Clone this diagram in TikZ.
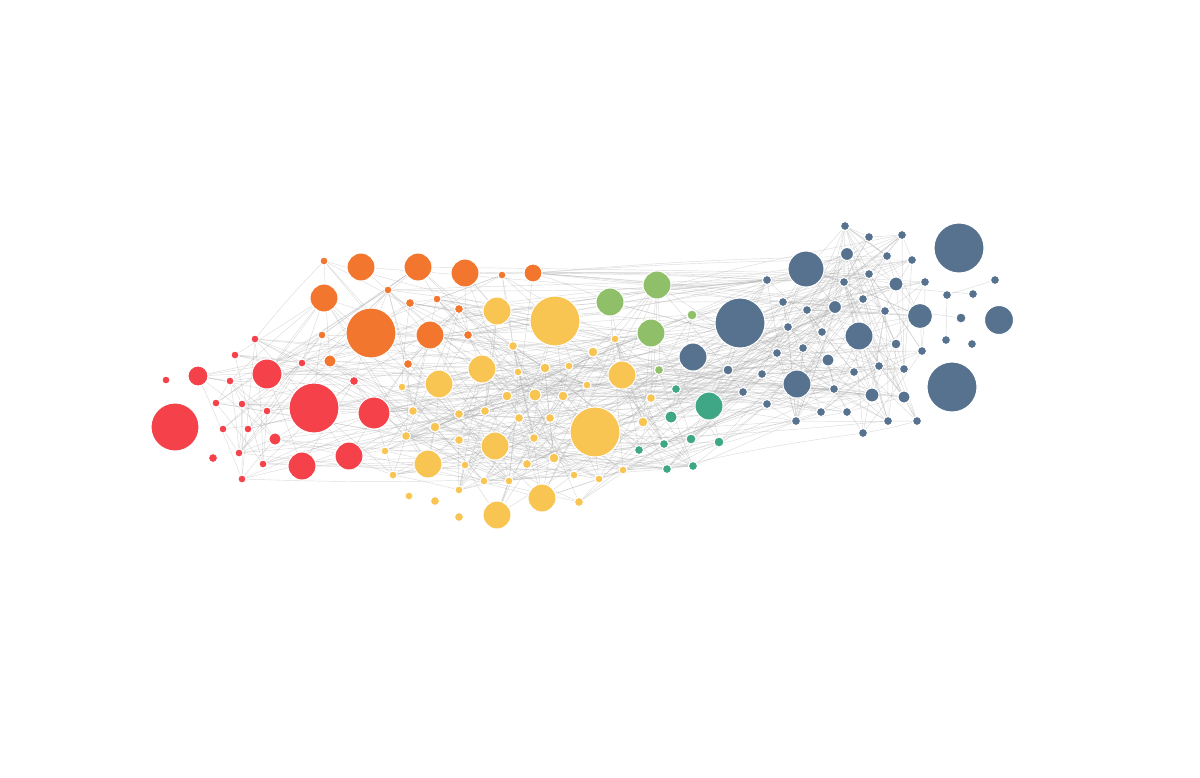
\documentclass[tikz,border=0pt]{standalone}
\usetikzlibrary{backgrounds}
\definecolor{cr}{HTML}{F5414A}
\definecolor{co}{HTML}{F2762E}
\definecolor{cy}{HTML}{F8C553}
\definecolor{cg}{HTML}{8FBF68}
\definecolor{ct}{HTML}{3FA786}
\definecolor{cb}{HTML}{56728F}
\pgfdeclarelayer{bg}
\pgfsetlayers{bg,main}
\tikzset{
  dot/.style={circle,draw=white,line width=1pt,inner sep=0pt},
  edge/.style={draw=black!35,line width=0.45pt,opacity=0.4}
}
\begin{document}
\begin{tikzpicture}[x=1pt,y=-1pt]
\useasboundingbox (0,0) rectangle (1200,777);
\foreach \x/\y/\r/\c/\w [count=\i] in {
166/380/4/cr/0, 198/376/10/cr/1, 175/427/24/cr/0, 213/458/4.5/cr/0, 216/403/4/cr/1,
223/429/4/cr/1, 230/381/4/cr/1, 235/355/4/cr/1, 255/339/4/cr/1, 242/404/4/cr/1,
248/429/4/cr/1, 239/453/4/cr/1, 242/479/4/cr/1, 267/374/15/cr/1, 267/411/4/cr/1,
275/439/6/cr/1, 263/464/4/cr/1, 302/363/4/cr/1, 314/408/25/cr/1, 302/466/14/cr/1,
349/456/14/cr/1, 354/381/4.5/cr/1, 374/413/16/cr/1,
324/261/4/co/1, 361/267/14/co/1, 324/298/14/co/1, 388/290/4/co/1, 410/303/4.5/co/1,
371/333/25/co/1, 322/335/4/co/1, 330/361/6/co/1, 408/364/4.5/co/1, 418/267/14/co/1,
465/273/14/co/1, 502/275/4/co/1, 533/273/9/co/1, 437/299/4/co/1, 459/309/4.5/co/1,
430/335/14/co/1, 468/335/4.5/co/1,
497/311/14/cy/1, 555/321/25/cy/1, 513/346/4.5/cy/1, 482/369/14/cy/1, 439/384/14/cy/1,
402/387/4/cy/1, 518/372/4/cy/1, 545/368/5/cy/1, 569/366/4/cy/1, 593/352/5/cy/1,
615/339/4/cy/1, 622/375/14/cy/1, 587/385/4/cy/1, 507/396/5/cy/1, 535/395/6/cy/1,
563/396/5/cy/1, 413/411/4.5/cy/1, 459/414/4.5/cy/1, 485/411/4.5/cy/1, 519/418/4.5/cy/1,
550/418/4.5/cy/1, 435/427/5/cy/1, 406/436/4.5/cy/1, 459/440/4.5/cy/1, 495/446/14/cy/1,
534/438/4.5/cy/1, 595/432/25/cy/1, 385/451/4/cy/1, 428/464/14/cy/1, 465/465/4/cy/1,
527/464/4.5/cy/1, 554/458/5/cy/1, 393/475/4/cy/1, 484/481/4/cy/1, 509/481/4/cy/1,
574/475/4/cy/1, 599/479/4/cy/1, 623/470/4/cy/1, 459/490/4/cy/1, 409/496/4/cy/0,
435/501/4.5/cy/0, 542/498/14/cy/1, 579/502/4.5/cy/1, 459/517/4.5/cy/0, 497/515/14/cy/1,
651/398/4.5/cy/1, 643/422/5/cy/1,
610/302/14/cg/1, 657/285/14/cg/1, 651/333/14/cg/1, 692/315/5/cg/1, 659/370/4.5/cg/1,
676/389/4.5/ct/1, 709/406/14/ct/1, 671/417/6/ct/1, 639/450/4.5/ct/1, 664/444/4.5/ct/1,
691/439/5/ct/1, 719/442/5/ct/1, 667/469/4.5/ct/1, 693/466/4.5/ct/1,
845/226/4.5/cb/1, 869/237/4.5/cb/1, 902/235/4.5/cb/1, 959/248/25/cb/0, 806/269/18/cb/1,
847/254/6.5/cb/1, 887/256/4.5/cb/1, 912/260/4.5/cb/1, 767/280/4.5/cb/1, 869/274/4.5/cb/1,
844/282/4.5/cb/1, 896/284/7/cb/1, 925/282/4.5/cb/1, 995/280/4.5/cb/0, 947/295/4.5/cb/0,
973/294/4.5/cb/0, 783/302/4.5/cb/1, 807/310/4.5/cb/1, 835/307/6.5/cb/1, 863/299/4.5/cb/1,
885/311/4.5/cb/1, 920/316/12.5/cb/1, 961/318/5/cb/0, 999/320/14.5/cb/0, 740/323/25/cb/1,
788/327/4.5/cb/1, 822/332/4.5/cb/1, 859/336/14/cb/1, 803/348/4.5/cb/1, 777/353/4.5/cb/1,
896/344/5/cb/1, 922/351/4.5/cb/1, 946/340/4.5/cb/0, 972/344/4.5/cb/0, 693/357/14/cb/1,
828/360/6/cb/1, 879/366/4.5/cb/1, 904/369/4.5/cb/1, 854/372/4.5/cb/1, 728/370/5/cb/1,
762/374/4.5/cb/1, 797/384/14/cb/1, 834/389/4.5/cb/1, 872/395/7/cb/1, 904/397/6/cb/1,
952/387/25/cb/0, 743/392/4.5/cb/1, 767/404/4.5/cb/1, 821/412/4.5/cb/1, 847/412/4.5/cb/1,
796/421/4.5/cb/1, 888/421/4.5/cb/1, 917/421/4.5/cb/1, 863/433/4.5/cb/1}{
  \node[dot,fill=\c,minimum size={2*\r pt}] (n\i) at (\x,\y) {};
  \expandafter\xdef\csname nx\i\endcsname{\x}
  \expandafter\xdef\csname ny\i\endcsname{\y}
  \expandafter\xdef\csname nw\i\endcsname{\w}
  \xdef\N{\i}
}
% a few sparse links among the outlying nodes
\begin{pgfonlayer}{bg}
\draw[edge] (n2) -- (n7);
\draw[edge] (n113) -- (n114);
\draw[edge] (n115) -- (n116);
\draw[edge] (n116) -- (n134);
\draw[edge] (n133) -- (n131);
\draw[edge] (n123) -- (n133);
% bundle from the upper orange node towards the blue group
\foreach \t in {108,109,110,112,114,117,118,119,122,124}{
  \draw[edge] (n36) to[bend left=2] (n\t);
}
\pgfmathsetseed{7}
\foreach \i in {1,...,\N}{
  \foreach \k in {1,...,15}{
    \pgfmathtruncatemacro\j{random(1,\N)}
    \pgfmathsetmacro\d{veclen(\csname nx\i\endcsname-\csname nx\j\endcsname,\csname ny\i\endcsname-\csname ny\j\endcsname)}
    \pgfmathsetmacro\p{rnd}
    \pgfmathtruncatemacro\ok{(\csname nw\i\endcsname*\csname nw\j\endcsname==1)&&(\j!=\i)&&((\d<130)||((\d<320)&&(\p<0.3))||(\p<0.09))}
    \pgfmathsetmacro\b{6*rnd-3}
    \ifnum\ok=1 \draw[edge] (n\i) to[bend left=\b] (n\j); \fi
  }
}
\end{pgfonlayer}
\end{tikzpicture}
\end{document}
